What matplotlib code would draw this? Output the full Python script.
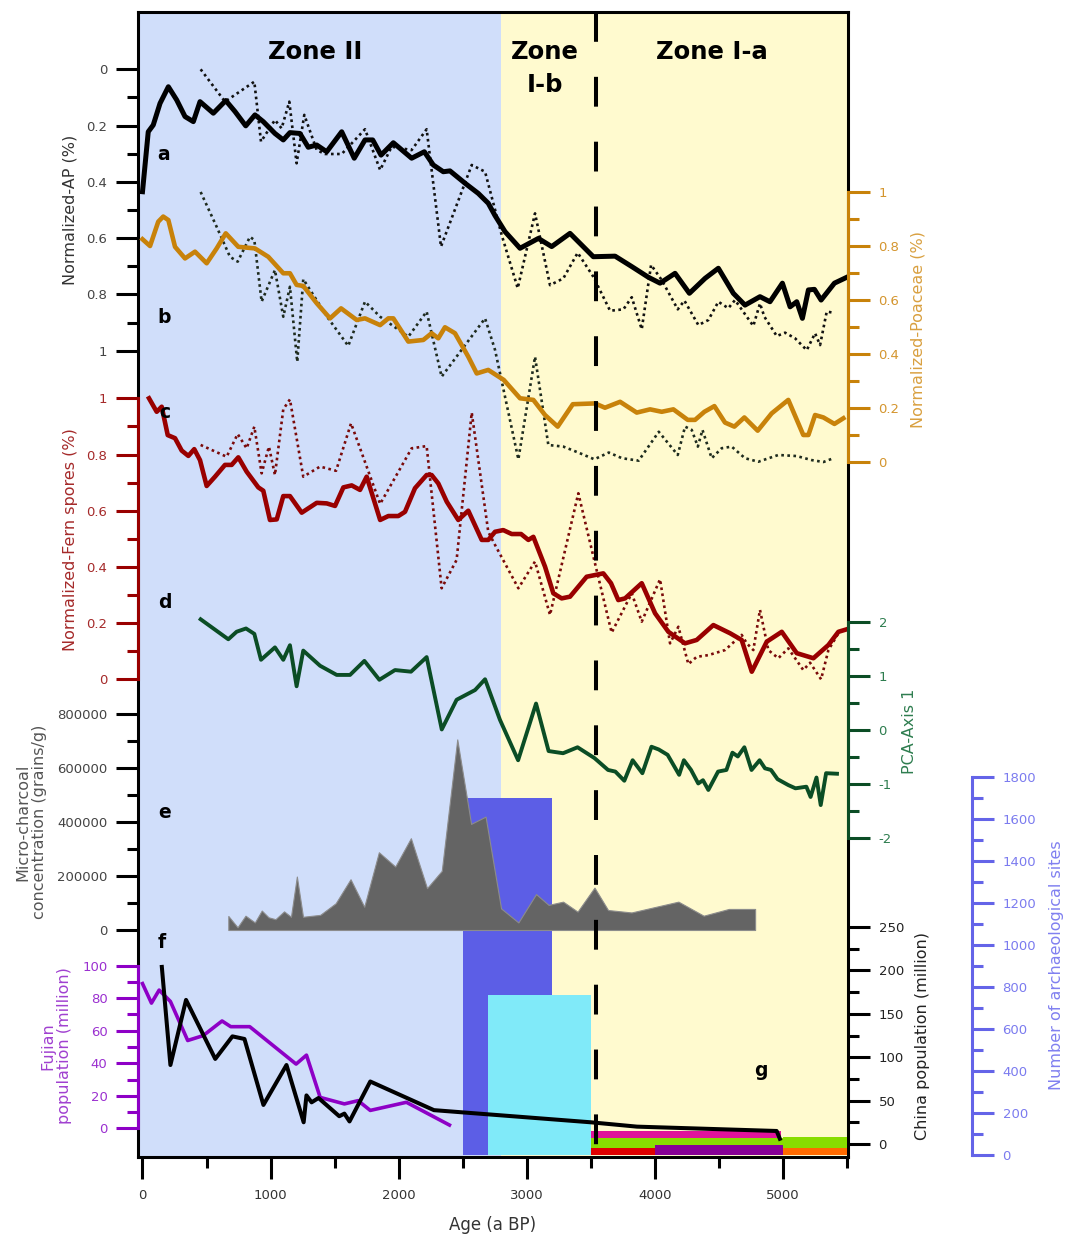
import matplotlib
matplotlib.use("Agg")
import matplotlib.pyplot as plt

plt.rcParams.update({
    "font.family": ["DejaVu Sans"],
    "font.size": 10,
    "axes.linewidth": 2.2,
})

BG_BLUE = "#D0DEFA"
BG_YELLOW = "#FFFACF"
ORANGE = "#C8820A"
FERN = "#990000"
GREEN = "#0B4D25"
PURPLE = "#8E00C6"
SITE_BLUE = "#6464E8"
BAR_BLUE = "#5C5EE6"
CYAN = "#80EAF9"
GRAY = "#646464"

# ---------------- data ----------------
ZONE_SPLIT = 2800      # Zone II / Zone I boundary (a BP)
ZONE_DASH = 3540       # Zone I-b / I-a boundary (a BP)

# a: normalized AP (solid) and raw AP (dotted)
ap_age = [0, 45, 84, 137, 202, 267, 332, 397, 449, 553, 650, 722, 806, 878, 943, 1034,
          1099, 1151, 1229, 1294, 1360, 1438, 1555, 1653, 1737, 1797, 1862, 1958, 2101,
          2200, 2270, 2348, 2400, 2518, 2621, 2699, 2752, 2830, 2947, 3090, 3194, 3337,
          3519, 3689, 3819, 3949, 4040, 4157, 4269, 4391, 4495, 4612, 4703, 4820, 4898,
          4995, 5055, 5107, 5151, 5198, 5245, 5297, 5401, 5498]
ap_val = [0.435, 0.222, 0.198, 0.121, 0.062, 0.109, 0.168, 0.186, 0.115, 0.156, 0.111,
          0.150, 0.201, 0.162, 0.186, 0.228, 0.251, 0.225, 0.228, 0.277, 0.269, 0.293,
          0.222, 0.316, 0.251, 0.251, 0.305, 0.261, 0.316, 0.293, 0.340, 0.364, 0.361,
          0.405, 0.441, 0.476, 0.520, 0.577, 0.636, 0.601, 0.630, 0.583, 0.666, 0.664,
          0.701, 0.739, 0.760, 0.725, 0.796, 0.743, 0.707, 0.796, 0.838, 0.808, 0.826,
          0.760, 0.844, 0.826, 0.885, 0.784, 0.782, 0.820, 0.760, 0.739]
apd_age = [454, 644, 873, 925, 1034, 1086, 1146, 1203, 1263, 1360, 1425, 1555, 1737, 1855,
           1945, 2101, 2218, 2330, 2570, 2674, 2804, 2929, 3064, 3181, 3285, 3397, 3519,
           3650, 3754, 3819, 3897, 3970, 4053, 4178, 4230, 4339, 4417, 4495, 4573, 4625,
           4768, 4820, 4854, 4951, 5016, 5094, 5185, 5250, 5289, 5341, 5393]
apd_val = [0.0, 0.115, 0.044, 0.257, 0.180, 0.210, 0.115, 0.334, 0.162, 0.287, 0.301,
           0.301, 0.213, 0.358, 0.275, 0.287, 0.213, 0.630, 0.340, 0.364, 0.589, 0.778,
           0.512, 0.767, 0.743, 0.652, 0.737, 0.858, 0.853, 0.810, 0.924, 0.695, 0.749,
           0.853, 0.822, 0.909, 0.891, 0.826, 0.849, 0.820, 0.912, 0.832, 0.879, 0.948,
           0.936, 0.956, 0.998, 0.938, 0.980, 0.861, 0.865]

# b: Poaceae
po_age = [0, 59, 123, 162, 202, 254, 332, 410, 501, 579, 650, 748, 878, 982, 1099, 1151,
          1203, 1255, 1360, 1464, 1550, 1672, 1737, 1855, 1919, 1958, 2075, 2192, 2257,
          2309, 2361, 2439, 2543, 2609, 2699, 2820, 2947, 3051, 3142, 3241, 3359, 3532,
          3610, 3728, 3858, 3962, 4053, 4144, 4256, 4313, 4386, 4464, 4547, 4620, 4698,
          4802, 4911, 5041, 5158, 5198, 5250, 5315, 5401, 5471]
po_val = [0.825, 0.800, 0.890, 0.909, 0.896, 0.797, 0.754, 0.779, 0.736, 0.791, 0.847,
          0.797, 0.791, 0.760, 0.699, 0.699, 0.656, 0.652, 0.588, 0.532, 0.569, 0.526,
          0.532, 0.507, 0.532, 0.532, 0.446, 0.452, 0.477, 0.458, 0.499, 0.477, 0.390,
          0.328, 0.341, 0.304, 0.236, 0.230, 0.174, 0.131, 0.214, 0.217, 0.201, 0.223,
          0.183, 0.195, 0.186, 0.195, 0.156, 0.156, 0.186, 0.207, 0.146, 0.131, 0.165,
          0.116, 0.180, 0.230, 0.100, 0.100, 0.174, 0.165, 0.141, 0.162]
pod_age = [454, 579, 683, 743, 839, 873, 930, 1034, 1099, 1151, 1208, 1255, 1450, 1606,
           1737, 1855, 2075, 2218, 2335, 2674, 2752, 2934, 3064, 3168, 3285, 3402, 3527,
           3640, 3743, 3873, 4030, 4178, 4235, 4287, 4335, 4371, 4443, 4521, 4599, 4703,
           4807, 4963, 5107, 5224, 5315, 5393]
pod_val = [1.0, 0.871, 0.760, 0.742, 0.834, 0.822, 0.594, 0.711, 0.538, 0.649, 0.371,
           0.677, 0.532, 0.430, 0.594, 0.538, 0.464, 0.557, 0.316, 0.532, 0.415, 0.010,
           0.390, 0.063, 0.057, 0.035, 0.010, 0.035, 0.014, 0.005, 0.112, 0.026, 0.131,
           0.119, 0.057, 0.119, 0.014, 0.051, 0.057, 0.014, 0.001, 0.026, 0.022, 0.007,
           0.0, 0.014]

# c: fern spores
fe_age = [51, 111, 150, 197, 254, 306, 358, 404, 449, 501, 566, 644, 696, 748, 813, 904,
          943, 995, 1048, 1099, 1151, 1243, 1360, 1438, 1503, 1568, 1633, 1698, 1750,
          1855, 1919, 1997, 2049, 2127, 2218, 2257, 2309, 2375, 2465, 2543, 2648, 2699,
          2752, 2816, 2882, 2955, 3012, 3051, 3142, 3207, 3272, 3337, 3467, 3532, 3597,
          3657, 3714, 3767, 3897, 4001, 4105, 4235, 4326, 4456, 4586, 4677, 4756, 4873,
          4990, 5107, 5237, 5354, 5432, 5498]
fe_val = [1.0, 0.952, 0.970, 0.869, 0.858, 0.814, 0.795, 0.819, 0.780, 0.688, 0.721,
          0.763, 0.763, 0.790, 0.739, 0.683, 0.671, 0.567, 0.569, 0.652, 0.652, 0.593,
          0.628, 0.626, 0.617, 0.683, 0.690, 0.674, 0.721, 0.567, 0.581, 0.581, 0.596,
          0.680, 0.727, 0.727, 0.697, 0.632, 0.567, 0.600, 0.496, 0.496, 0.525, 0.531,
          0.517, 0.517, 0.496, 0.507, 0.401, 0.306, 0.288, 0.294, 0.365, 0.371, 0.377,
          0.342, 0.282, 0.288, 0.342, 0.235, 0.169, 0.128, 0.140, 0.193, 0.164, 0.140,
          0.027, 0.134, 0.169, 0.093, 0.075, 0.122, 0.169, 0.178]
fed_age = [454, 657, 743, 813, 873, 930, 987, 1034, 1099, 1151, 1255, 1386, 1511, 1628,
           1855, 2101, 2218, 2335, 2452, 2570, 2699, 2752, 2934, 3064, 3181, 3402, 3532,
           3662, 3819, 3897, 4040, 4118, 4183, 4261, 4326, 4417, 4547, 4677, 4717, 4768,
           4820, 4885, 4963, 5041, 5158, 5211, 5297, 5354, 5432]
fed_val = [0.834, 0.792, 0.873, 0.822, 0.899, 0.733, 0.828, 0.727, 0.961, 0.996, 0.721,
           0.757, 0.742, 0.911, 0.624, 0.822, 0.830, 0.324, 0.425, 0.949, 0.525, 0.478,
           0.324, 0.419, 0.229, 0.662, 0.413, 0.166, 0.306, 0.205, 0.356, 0.128, 0.187,
           0.054, 0.080, 0.086, 0.104, 0.158, 0.128, 0.104, 0.247, 0.104, 0.075, 0.110,
           0.033, 0.059, 0.0, 0.104, 0.164]

# d: PCA axis 1
pca_age = [454, 670, 735, 808, 873, 925, 1034, 1099, 1151, 1203, 1255, 1386, 1516, 1620,
           1732, 1849, 1971, 2096, 2218, 2336, 2452, 2596, 2674, 2790, 2932, 3072, 3170,
           3283, 3396, 3528, 3634, 3691, 3761, 3826, 3902, 3973, 4029, 4099, 4189, 4226,
           4282, 4338, 4375, 4417, 4493, 4558, 4605, 4647, 4698, 4754, 4817, 4859, 4906,
           4957, 5041, 5097, 5182, 5215, 5261, 5294, 5336, 5421]
pca_val = [2.05, 1.68, 1.82, 1.88, 1.78, 1.30, 1.53, 1.30, 1.57, 0.81, 1.47, 1.19, 1.02,
           1.02, 1.28, 0.93, 1.11, 1.08, 1.35, 0.01, 0.56, 0.74, 0.94, 0.19, -0.56, 0.49,
           -0.39, -0.43, -0.32, -0.52, -0.74, -0.77, -0.94, -0.56, -0.80, -0.31, -0.36,
           -0.46, -0.83, -0.56, -0.74, -0.99, -0.93, -1.11, -0.77, -0.74, -0.42, -0.49,
           -0.32, -0.74, -0.56, -0.71, -0.74, -0.91, -1.02, -1.08, -1.05, -1.24, -0.88,
           -1.39, -0.80, -0.81]

# e: micro-charcoal concentration (grains/g)
ch_age = [670, 742, 804, 877, 931, 984, 1038, 1105, 1159, 1205, 1253, 1387, 1508, 1624,
          1731, 1845, 1973, 2095, 2221, 2336, 2457, 2565, 2678, 2799, 2934, 3072, 3170,
          3283, 3396, 3528, 3634, 3817, 4183, 4380, 4577, 4782]
ch_val = [52000, 10000, 53000, 28000, 72000, 47000, 40000, 69000, 49000, 198000, 49000,
          56000, 99000, 188000, 86000, 288000, 235000, 340000, 155000, 219000, 706000,
          393000, 420000, 80000, 28000, 133000, 93000, 105000, 68000, 157000, 74000,
          65000, 105000, 53000, 78000, 78000]

# f: population (million)
fj_age = [0, 70, 130, 218, 353, 474, 621, 689, 837, 1199, 1280, 1387, 1576, 1683, 1778,
          2060, 2396]
fj_val = [89, 77, 85, 78, 54, 57, 66, 62.5, 62.5, 39.5, 45, 19, 15, 17, 11, 16, 2]
cn_age = [151, 218, 340, 568, 702, 796, 944, 1124, 1258, 1280, 1320, 1374, 1536, 1576,
          1616, 1778, 2275, 3500, 3860, 4950, 4975]
cn_val = [204, 91, 166, 98, 124, 121, 45, 91, 25, 56, 48, 53, 32, 35, 26, 72, 39, 25,
          20, 15, 6]

# g: number of archaeological sites
site_start = [2500, 2700]
site_end = [3200, 3500]
site_count = [1700, 760]
site_colors = [BAR_BLUE, CYAN]
# cultural periods strip: start, end, low, high
strip_start = [3500, 4000, 5000, 3500, 4000, 5000, 3500]
strip_end = [4000, 5000, 5500, 4000, 5000, 5500, 4985]
strip_low = [0, 0, 0, 35, 48, 35, 82]
strip_high = [35, 48, 35, 82, 82, 84, 114]
strip_colors = ["#E00000", "#870096", "#FF6A00", "#88DD00", "#88DD00", "#88DD00", "#E0139B"]

# ---------------- layout ----------------
W, H = 1065, 1237
L_PX, R_PX, T_PX, B_PX = 138, 848, 12, 1157
X_MIN, X_MAX = -35, 5507


def fx(px):
    return px / W


def fy(py):
    return 1 - py / H


fig = plt.figure(figsize=(W / 100, H / 100), dpi=100)
rect = [L_PX / W, 1 - B_PX / H, (R_PX - L_PX) / W, (B_PX - T_PX) / H]

ax = fig.add_axes(rect)
ax.set_xlim(X_MIN, X_MAX)
ax.set_ylim(0, 1)
ax.set_yticks([])
ax.axvspan(X_MIN, ZONE_SPLIT, color=BG_BLUE, lw=0, zorder=0)
ax.axvspan(ZONE_SPLIT, X_MAX, color=BG_YELLOW, lw=0, zorder=0)
ax.set_xticks(range(0, 5001, 1000))
ax.set_xticks(range(500, 5501, 1000), minor=True)
ax.tick_params(axis="x", which="major", length=16, width=2.2, pad=7,
               labelsize=9.5, labelcolor="#333333")
ax.tick_params(axis="x", which="minor", length=8, width=2.2)


def panel(v0, p0, v1, p1, side, color, major, minor, fmt, label_color,
          spine=True, offset=None):
    p = fig.add_axes(rect, sharex=ax)
    p.patch.set_visible(False)
    s = (v1 - v0) / (p1 - p0)
    p.set_ylim(v0 + (B_PX - p0) * s, v0 + (T_PX - p0) * s)
    for sp in p.spines.values():
        sp.set_visible(False)
    p.tick_params(axis="x", which="both", bottom=False, top=False,
                  labelbottom=False, labeltop=False)
    if side == "right":
        p.yaxis.tick_right()
    else:
        p.yaxis.tick_left()
    p.set_yticks(major)
    p.set_yticklabels([fmt(v) for v in major])
    p.set_yticks(minor, minor=True)
    p.tick_params(axis="y", which="major", length=16, width=2.2, color=color,
                  labelcolor=label_color, labelsize=9.5, pad=6)
    p.tick_params(axis="y", which="minor", length=8, width=2.2, color=color)
    if spine:
        sp = p.spines[side]
        sp.set_visible(True)
        sp.set_color(color)
        sp.set_linewidth(2.2)
        sp.set_bounds(min(major), max(major))
        if offset:
            sp.set_position(("outward", offset))
    return p


frac = lambda v: f"{v:g}"
tenths = [i / 10 for i in range(1, 10, 2)]
fifths = [i / 5 for i in range(0, 6)]

# g: archaeological sites (drawn first so curves sit above the bars)
p_sites = panel(0, 1155, 1800, 777, "right", SITE_BLUE, list(range(0, 1801, 200)),
                list(range(100, 1800, 200)), lambda v: f"{v}", "#7B7BEF", offset=89.3)
widths = [e - s for s, e in zip(site_start, site_end)]
p_sites.bar(site_start, site_count, width=widths, align="edge", color=site_colors, lw=0)
for s, e, lo, hi, c in zip(strip_start, strip_end, strip_low, strip_high, strip_colors):
    p_sites.bar(s, hi - lo, width=e - s, bottom=lo, align="edge", color=c, lw=0)

# e: micro-charcoal
p_e = panel(0, 930, 800000, 714, "left", "black", list(range(0, 800001, 200000)),
            list(range(100000, 800000, 200000)), lambda v: f"{v}", "#444444", spine=False)
p_e.fill_between(ch_age, ch_val, 0, color=GRAY, edgecolor="#8c8c8c", lw=0.8)

# a: AP
p_a = panel(0, 69.3, 1, 350.7, "left", "black", fifths, tenths, frac, "#444444",
            spine=False)
p_a.plot(apd_age, apd_val, color="#111111", lw=1.9, dashes=(1, 1.3))
p_a.plot(ap_age, ap_val, color="black", lw=3.6)

# b: Poaceae
p_b = panel(0, 462, 1, 192, "right", ORANGE, fifths, tenths, frac, "#D4952E")
p_b.plot(pod_age, pod_val, color="#1E2B1E", lw=1.9, dashes=(1, 1.3))
p_b.plot(po_age, po_val, color=ORANGE, lw=3.3)

# c: fern spores
p_c = panel(0, 679.3, 1, 398.3, "left", FERN, fifths, tenths, frac, "#A52A2A")
p_c.plot(fed_age, fed_val, color="#7A0A0A", lw=1.9, dashes=(1, 1.3))
p_c.plot(fe_age, fe_val, color=FERN, lw=3.3)

# d: PCA
p_d = panel(-2, 838, 2, 622, "right", GREEN, [-2, -1, 0, 1, 2], [-1.5, -0.5, 0.5, 1.5],
            lambda v: f"{v:g}", "#2E7D4F")
p_d.plot(pca_age, pca_val, color=GREEN, lw=2.8)

# f: Fujian population
p_f = panel(0, 1128.3, 100, 965.7, "left", PURPLE, list(range(0, 101, 20)),
            list(range(10, 100, 20)), lambda v: f"{v}", "#9B30D0")
p_f.plot(fj_age, fj_val, color=PURPLE, lw=2.6)

# China population
p_cn = panel(0, 1144, 250, 927, "right", "black", list(range(0, 251, 50)),
             list(range(25, 250, 50)), lambda v: f"{v}", "#222222", spine=False)
p_cn.plot(cn_age, cn_val, color="black", lw=2.9)

# zone boundary (dashes start from the top)
p_cn.plot([ZONE_DASH, ZONE_DASH], [1, 0], transform=p_cn.get_xaxis_transform(),
          color="black", lw=2.9, dashes=(7.4, 8.7), zorder=10)

# zone titles
zkw = dict(ha="center", va="center", fontsize=17.5, fontweight="bold")
fig.text(fx(315), fy(52), "Zone II", **zkw)
fig.text(fx(545), fy(52), "Zone", **zkw)
fig.text(fx(545), fy(85), "I-b", **zkw)
fig.text(fx(712), fy(52), "Zone I-a", **zkw)

# panel letters
for letter, px, py in [("a", 164, 155), ("b", 164, 317), ("c", 165, 413), ("d", 165, 602),
                       ("e", 165, 812), ("f", 162, 942), ("g", 761, 1070)]:
    fig.text(fx(px), fy(py), letter, ha="center", va="center", fontsize=13.5,
             fontweight="bold")

# axis titles
lkw = dict(ha="center", va="center", rotation=90, fontsize=11.5, linespacing=1.1)
fig.text(fx(70), fy(210), "Normalized-AP (%)", color="#333333", **lkw)
fig.text(fx(70), fy(540), "Normalized-Fern spores (%)", color="#A52A2A", **lkw)
fig.text(fx(31), fy(822), "Micro-charcoal\nconcentration (grains/g)", color="#555555", **lkw)
fig.text(fx(56), fy(1046), "Fujian\npopulation (million)", color="#A040D0", **lkw)
fig.text(fx(918), fy(329), "Normalized-Poaceae (%)", color="#D9A040", **lkw)
fig.text(fx(910), fy(731), "PCA-Axis 1", color="#2E7D4F", **lkw)
fig.text(fx(922), fy(1036), "China population (million)", color="#222222", **lkw)
fig.text(fx(1056), fy(965), "Number of archaeological sites", color="#8080F0", **lkw)
fig.text(fx(493), fy(1225), "Age (a BP)", ha="center", va="center", fontsize=12,
         color="#333333")

fig.savefig("out.png", dpi=100)
